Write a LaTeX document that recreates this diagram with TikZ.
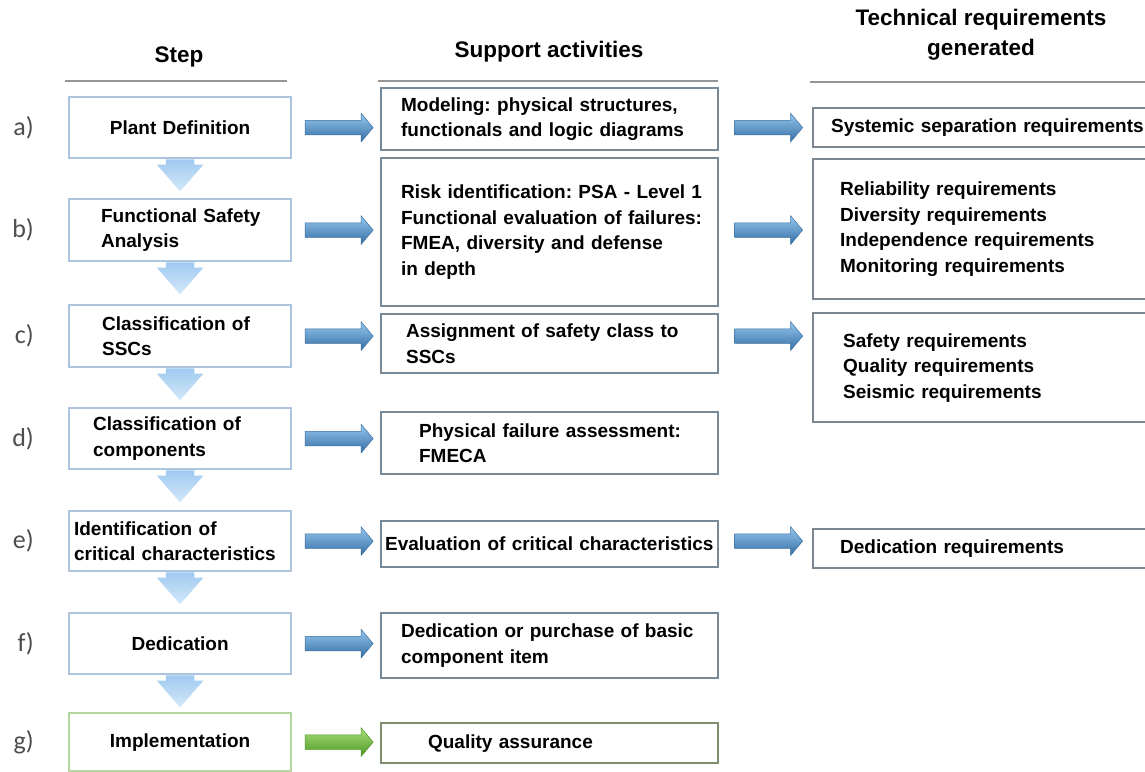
\documentclass[tikz,border=0pt]{standalone}
\usepackage{fontspec}
\setmainfont{Liberation Sans}
\newfontfamily\labfont{Carlito}
\usetikzlibrary{positioning,calc,shapes.arrows}

\definecolor{stepline}{RGB}{172,196,222}
\definecolor{stepgreen}{RGB}{182,214,160}
\definecolor{actline}{RGB}{118,138,154}
\definecolor{actgreen}{RGB}{128,142,112}
\definecolor{reqline}{RGB}{124,134,144}
\definecolor{ruleline}{RGB}{150,150,150}
\definecolor{labgray}{RGB}{78,78,78}
\definecolor{arrtop}{RGB}{150,200,238}
\definecolor{arrbot}{RGB}{52,110,165}
\definecolor{arredge}{RGB}{60,110,160}
\definecolor{downtop}{RGB}{212,232,250}
\definecolor{downbot}{RGB}{160,202,240}
\definecolor{gtop}{RGB}{170,225,120}
\definecolor{gbot}{RGB}{78,150,40}

\newcommand{\boxfont}{\fontsize{19}{25.5}\selectfont\bfseries}
\newcommand{\headfont}{\fontsize{22.5}{30}\selectfont\bfseries}
\frenchspacing

\begin{document}
\begin{tikzpicture}[x=1pt,y=-1pt,
  cell/.style={draw,fill=white,line width=2.2pt,anchor=north west,align=left,
    inner xsep=0pt,inner ysep=0pt,font=\boxfont},
  stepbox/.style={cell,draw=stepline,text width=222pt},
  actbox/.style={cell,draw=actline,text width=337pt},
  reqbox/.style={cell,draw=reqline,text width=338pt},
  pad/.style={execute at begin node={\leftskip=#1pt\relax}},
  head/.style={font=\headfont,align=center},
  rule/.style={draw=ruleline,line width=2pt},
  rowlabel/.style={font=\labfont\fontsize{26}{30}\selectfont,text=labgray,inner sep=0pt},
  rarrow/.style={single arrow,draw=arredge,line width=.5pt,top color=arrtop,bottom color=arrbot,
    inner xsep=0pt,inner ysep=7pt,minimum width=0pt,minimum height=68pt,
    single arrow head extend=7pt,single arrow tip angle=100},
  garrow/.style={rarrow,draw=gbot,top color=gtop,bottom color=gbot},
  darrow/.style={single arrow,rotate=-90,draw=none,top color=downbot,bottom color=downtop,
    inner xsep=0pt,inner ysep=14pt,minimum width=0pt,minimum height=32pt,
    single arrow head extend=9pt,single arrow tip angle=82,anchor=tail}]

  \fill[white] (0,0) rectangle (1145,771);
  \useasboundingbox (0,0) rectangle (1145,771);

  \node[head] (hstep) at (179,57) {Step};
  \node[head] (hsupp) at (549,52) {Support activities};
  \node[head] (htech) at (981,35) {Technical requirements\\generated};
  \draw[rule] (65,81) -- (287,81);
  \draw[rule] (378,81) -- (718,81);
  \draw[rule] (810,82) -- (1145,82);

  \node[stepbox,align=center,minimum height=61pt] (sa) at (68,96) {Plant Definition};
  \node[stepbox,pad=32,minimum height=62pt] (sb) at (68,198) {Functional Safety\\Analysis};
  \node[stepbox,pad=33,minimum height=62pt] (sc) at (68,304) {Classification of\\SSCs};
  \node[stepbox,pad=24,minimum height=61pt] (sd) at (68,407) {Classification of\\components};
  \node[stepbox,pad=5,minimum height=60pt] (se) at (68,510) {Identification of\\critical characteristics};
  \node[stepbox,align=center,minimum height=61pt] (sf) at (68,612) {Dedication};
  \node[stepbox,draw=stepgreen,align=center,minimum height=58pt] (sg) at (68,712) {Implementation};

  \node[rowlabel,left=34pt of sa] (la) {a)};
  \node[rowlabel,left=34pt of sb] (lb) {b)};
  \node[rowlabel,left=34pt of sc] (lc) {c)};
  \node[rowlabel,left=34pt of sd] (ld) {d)};
  \node[rowlabel,left=34pt of se] (le) {e)};
  \node[rowlabel,left=34pt of sf] (lf) {f)};
  \node[rowlabel,left=34pt of sg] (lg) {g)};

  \node[actbox,pad=20,minimum height=62pt] (ma) at (380,87) {Modeling: physical structures,\\functionals and logic diagrams};
  \node[actbox,pad=20,minimum height=148pt] (mb) at (380,157) {Risk identification: PSA - Level 1\\Functional evaluation of failures:\\FMEA, diversity and defense\\in depth};
  \node[actbox,pad=25,minimum height=59pt] (mc) at (380,313) {Assignment of safety class to\\SSCs};
  \node[actbox,pad=38,minimum height=62pt] (md) at (380,411) {Physical failure assessment:\\FMECA};
  \node[actbox,pad=4,minimum height=46pt] (me) at (380,520) {Evaluation of critical characteristics};
  \node[actbox,pad=20,minimum height=65pt] (mf) at (380,612) {Dedication or purchase of basic\\component item};
  \node[actbox,draw=actgreen,pad=47,minimum height=40pt] (mg) at (380,722) {Quality assurance};

  \node[reqbox,pad=18,minimum height=39pt] (ra) at (812,107) {Systemic separation requirements};
  \node[reqbox,pad=27,minimum height=140pt] (rb) at (812,158) {Reliability requirements\\Diversity requirements\\Independence requirements\\Monitoring requirements};
  \node[reqbox,pad=30,minimum height=109pt] (rc) at (812,312) {Safety requirements\\Quality requirements\\Seismic requirements};
  \node[reqbox,pad=27,minimum height=39pt] (re) at (812,528) {Dedication requirements};

  \node[darrow] (dab) at (sa.south) {};
  \node[darrow] (dbc) at (sb.south) {};
  \node[darrow] (dcd) at (sc.south) {};
  \node[darrow] (dde) at (sd.south) {};
  \node[darrow] (def) at (se.south) {};
  \node[darrow] (dfg) at (sf.south) {};

  \node[rarrow] (sma) at ($(sa.east)!.5!(ma.west |- sa.east)$) {};
  \node[rarrow] (smb) at ($(sb.east)!.5!(mb.west |- sb.east)$) {};
  \node[rarrow] (smc) at ($(sc.east)!.5!(mc.west |- sc.east)$) {};
  \node[rarrow] (smd) at ($(sd.east)!.5!(md.west |- sd.east)$) {};
  \node[rarrow] (sme) at ($(se.east)!.5!(me.west |- se.east)$) {};
  \node[rarrow] (smf) at ($(sf.east)!.5!(mf.west |- sf.east)$) {};
  \node[garrow] (smg) at ($(sg.east)!.5!(mg.west |- sg.east)$) {};

  \node[rarrow] (mra) at ($(ma.east |- sa.east)!.5!(ra.west |- sa.east)$) {};
  \node[rarrow] (mrb) at ($(mb.east |- sb.east)!.5!(rb.west |- sb.east)$) {};
  \node[rarrow] (mrc) at ($(mc.east |- sc.east)!.5!(rc.west |- sc.east)$) {};
  \node[rarrow] (mre) at ($(me.east |- se.east)!.5!(re.west |- se.east)$) {};
\end{tikzpicture}
\end{document}
